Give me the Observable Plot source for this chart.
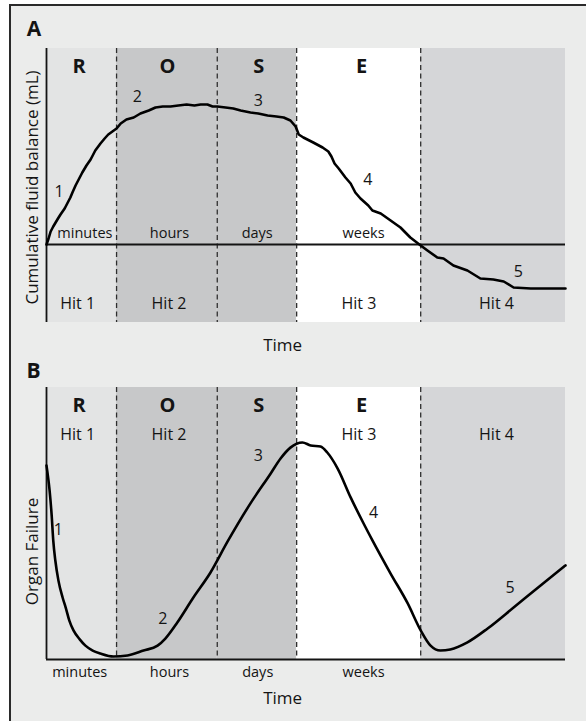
<!DOCTYPE html>
<html>
<head>
<meta charset="utf-8">
<script src="https://cdn.jsdelivr.net/npm/d3@7"></script>
<script src="https://cdn.jsdelivr.net/npm/@observablehq/plot@0.6"></script>
<style>
  html, body { margin: 0; padding: 0; background: #ffffff; overflow: hidden; }
  #page { position: relative; width: 586px; height: 721px; }
  #frame { position: absolute; left: 9px; top: 4px; width: 600px; height: 740px;
           background: #ebeceb; border-left: 2px solid #2a2a2a; border-top: 2px solid #2a2a2a; }
  #page svg { position: absolute; left: 0; }
</style>
</head>
<body>
<div id="page"><div id="frame"></div></div>
<script>
// ---- data ----
const phaseBounds = [0, 13.5, 32.9, 48.2, 72.1, 100];
const phaseFills = ["#e3e4e4", "#c7c8c9", "#c7c8c9", "#ffffff", "#d5d6d8"];
const phaseLetters = ["R", "O", "S", "E"];
const letterX = [6.3, 23.3, 40.9, 60.7];
const hitLabels = ["Hit 1", "Hit 2", "Hit 3", "Hit 4"];
const hitX = [6.0, 23.6, 60.2, 86.7];
const timeUnits = ["minutes", "hours", "days", "weeks"];
const timeUnitXA = [7.4, 23.7, 40.6, 61.1];
const timeUnitXB = [6.4, 23.7, 40.7, 61.1];
const dividers = [13.5, 32.9, 48.2, 72.1];

// Panel A: cumulative fluid balance (time, value)
const fluidT = [0,0.4,0.8,1.3,2.1,2.7,3.5,4.0,4.6,5.0,5.6,6.2,6.9,7.7,8.5,9.4,10.4,11.2,11.9,12.7,
  13.5,14.3,15.4,16.8,18.1,19.7,21.0,22.4,23.9,25.4,27.0,28.5,29.7,31.0,32.0,32.9,34.5,36.0,37.4,39.3,
  40.8,42.6,44.3,45.7,47.0,48.0,48.6,49.5,51.4,53.2,54.3,54.9,55.5,56.3,57.6,58.6,59.5,60.5,62.0,62.8,
  64.4,66.3,68.2,70.1,72.1,73.4,75.3,76.5,78.4,81.1,83.6,86.1,88.1,90.0,93.3,100];
const fluidV = [0,3,6.5,9,12.5,15,18,20.5,23.5,26,29.5,32.5,36,39.5,42.5,47,50.5,53,55,56.5,
  58,60.5,62.5,63.5,65.5,67,68.5,69,69,69.5,70,69.5,70,70,69,69,68.5,68,67,66,
  65.5,64.5,64,63.5,62,59,55,53.5,51,48.5,46.5,44,40.5,38,33.5,30.5,26,23,19.5,17,
  15.5,12,8.5,3.5,-0.5,-3,-6.5,-7,-10.5,-13,-17,-17.5,-18.5,-21.5,-22,-22];
const fluidNumX = [2.4, 17.5, 40.8, 61.9, 90.9];
const fluidNumY = [26.3, 73.8, 72, 32.3, -13.5];

// Panel B: organ failure (time, value)
const organT = [0,0.6,1.0,1.3,1.7,2.3,3.1,3.7,4.4,5.2,6.4,7.5,8.9,10.4,12.9,15.6,18.7,21.4,22.9,25.2,
  28.3,31.6,34.9,39.3,43.2,45.1,47.0,49.3,50.9,52.8,54.1,56.1,58.6,61.1,62.8,66.3,69.6,72.1,74.0,75.9,
  77.8,81.1,85.0,90.0,95.2,100];
const organV = [71.3,62.1,52.9,43.8,36.4,29.0,22.8,19.1,14.3,10.7,7.4,5.1,3.3,2.2,1.1,1.5,3.3,5.1,7.7,13.6,
  22.8,32.0,43.4,57.4,68.4,73.9,77.9,79.8,78.7,78.3,76.1,70.2,59.6,50.0,43.8,31.6,20.6,10.7,5.1,3.3,
  3.7,6.3,11.4,19.1,27.2,34.6];
const organNumX = [2.3, 22.4, 40.8, 63.0, 89.3];
const organNumY = [47.8, 14.9, 75.0, 53.9, 26.3];
const numLabels = ["1", "2", "3", "4", "5"];

// ---- build ----
const phases = phaseFills.map((f, i) => ({x1: phaseBounds[i], x2: phaseBounds[i + 1], fill: f}));
const fluid = fluidT.map((t, i) => ({t, v: fluidV[i]}));
const organ = organT.map((t, i) => ({t, v: organV[i]}));
const font = "Open Sans";
const ink = "#141414";
const C = {textAnchor: "middle", lineAnchor: "middle", fill: ink};
const dash = Plot.ruleX(dividers, {stroke: "#2e2e2e", strokeWidth: 1.3, strokeDasharray: "5,3.5"});
const bands = Plot.rect(phases, {x1: "x1", x2: "x2", fill: "fill"});

const svgA = Plot.plot({
  width: 586, height: 350,
  marginLeft: 46, marginRight: 21, marginTop: 48, marginBottom: 28,
  style: {background: "transparent", fontFamily: font, color: ink, overflow: "visible"},
  x: {domain: [0, 100], axis: null},
  y: {domain: [-39, 98], axis: null},
  marks: [
    bands,
    dash,
    Plot.ruleX([0], {stroke: ink, strokeWidth: 1.8}),
    Plot.ruleY([0], {stroke: ink, strokeWidth: 1.8}),
    Plot.line(fluid, {x: "t", y: "v", stroke: "#000", strokeWidth: 2.6, strokeLinejoin: "round"}),
    Plot.text(phaseLetters, {...C, x: (d, i) => letterX[i], frameAnchor: "top", dy: 18.5, fontSize: 20, fontWeight: "bold"}),
    Plot.text(hitLabels, {...C, x: (d, i) => hitX[i], frameAnchor: "bottom", dy: -19, fontSize: 16}),
    Plot.text(timeUnits, {...C, x: (d, i) => timeUnitXA[i], y: 0, dy: -11, fontSize: 14.5}),
    Plot.text(numLabels, {...C, x: (d, i) => fluidNumX[i], y: (d, i) => fluidNumY[i], fontSize: 16}),
    Plot.text([{x: 45.5, s: "Time"}], {...C, x: "x", text: "s", frameAnchor: "bottom", dy: 23, fontSize: 17}),
    Plot.text(["Cumulative fluid balance (mL)"], {...C, frameAnchor: "left", rotate: -90, dx: -14, dy: 2, fontSize: 17}),
    Plot.text(["A"], {...C, frameAnchor: "top-left", dx: -12.5, dy: -19.5, fontSize: 21, fontWeight: "bold"})
  ]
});
svgA.style.top = "0px";

const svgB = Plot.plot({
  width: 586, height: 371,
  marginLeft: 46, marginRight: 21, marginTop: 37, marginBottom: 62,
  style: {background: "transparent", fontFamily: font, color: ink},
  x: {domain: [0, 100], axis: null},
  y: {domain: [0, 100], axis: null},
  marks: [
    bands,
    dash,
    Plot.ruleX([0], {stroke: ink, strokeWidth: 1.8}),
    Plot.ruleY([0], {stroke: ink, strokeWidth: 1.8}),
    Plot.line(organ, {x: "t", y: "v", stroke: "#000", strokeWidth: 2.6, curve: "monotone-x"}),
    Plot.text(phaseLetters, {...C, x: (d, i) => letterX[i], frameAnchor: "top", dy: 18, fontSize: 20, fontWeight: "bold"}),
    Plot.text(hitLabels, {...C, x: (d, i) => hitX[i], frameAnchor: "top", dy: 47.5, fontSize: 16}),
    Plot.text(timeUnits, {...C, x: (d, i) => timeUnitXB[i], frameAnchor: "bottom", dy: 13, fontSize: 14.5}),
    Plot.text(numLabels, {...C, x: (d, i) => organNumX[i], y: (d, i) => organNumY[i], fontSize: 16}),
    Plot.text([{x: 45.5, s: "Time"}], {...C, x: "x", text: "s", frameAnchor: "bottom", dy: 39, fontSize: 17}),
    Plot.text(["Organ Failure"], {...C, frameAnchor: "left", rotate: -90, dx: -14, dy: 28, fontSize: 17}),
    Plot.text(["B"], {...C, frameAnchor: "top-left", dx: -13, dy: -16, fontSize: 21, fontWeight: "bold"})
  ]
});
svgB.style.top = "350px";

document.getElementById("page").append(svgA, svgB);
</script>
</body>
</html>
